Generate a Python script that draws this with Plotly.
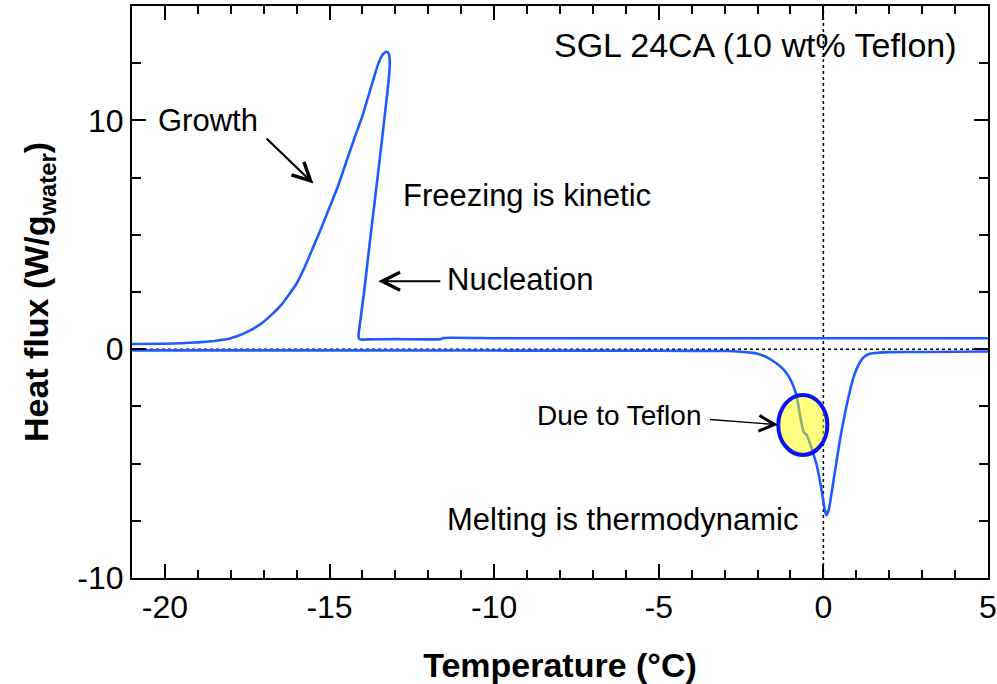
import plotly.graph_objects as go

# Cooling (freezing) run, in measurement order: 5 C down to nucleation, jump, growth back to -21 C
cool_T = [5.0, 0.0, -5.0, -10.0, -11.55, -11.62, -13.0, -13.85, -14.0, -14.1, -14.12,
          -13.95, -13.75, -13.5, -13.3, -13.2, -13.17, -13.19, -13.23, -13.27, -13.33,
          -13.4, -13.47, -13.55, -13.75, -14.0, -14.25, -14.5, -14.75, -15.0, -15.25,
          -15.5, -15.75, -16.0, -16.25, -16.5, -16.75, -17.0, -17.25, -17.5, -17.75,
          -18.0, -18.2, -18.5, -19.0, -19.5, -20.0, -21.0]
cool_Q = [0.48, 0.48, 0.48, 0.48, 0.49, 0.44, 0.44, 0.43, 0.42, 0.45, 0.58,
          2.5, 5.0, 8.0, 10.5, 11.8, 12.55, 12.85, 12.97, 13.0, 12.95,
          12.85, 12.65, 12.35, 11.4, 10.2, 9.2, 8.15, 7.1, 6.2, 5.3,
          4.45, 3.6, 2.87, 2.35, 1.88, 1.52, 1.2, 0.95, 0.76, 0.6,
          0.48, 0.42, 0.36, 0.30, 0.26, 0.24, 0.23]

# Heating (melting) run
heat_T = [-21.0, -10.0, -5.0, -3.0, -2.5, -2.2, -2.0, -1.8, -1.6, -1.4, -1.2, -1.05,
          -0.90, -0.80, -0.70, -0.60, -0.50, -0.34, -0.19, -0.04, 0.04, 0.09, 0.16,
          0.31, 0.52, 0.72, 0.92, 1.12, 1.25, 1.43, 1.7, 2.0, 3.0, 5.0]
heat_Q = [-0.05, -0.06, -0.07, -0.08, -0.11, -0.15, -0.2, -0.3, -0.45, -0.65, -0.9, -1.2,
          -1.65, -2.15, -2.96, -3.61, -3.76, -4.41, -5.14, -6.3, -7.0, -7.25, -7.03,
          -5.72, -3.83, -2.37, -1.21, -0.55, -0.32, -0.19, -0.15, -0.13, -0.12, -0.10]

x_ticks = [-20, -15, -10, -5, 0, 5]
y_ticks = [-10, 0, 10]

BLUE = "#1F5BFF"
FONT = "Liberation Sans, Arial, sans-serif"

fig = go.Figure()
fig.add_trace(go.Scatter(x=cool_T, y=cool_Q, mode="lines",
                         line=dict(color=BLUE, width=2.6, shape="spline", smoothing=0.4),
                         showlegend=False, hoverinfo="skip"))
fig.add_trace(go.Scatter(x=heat_T, y=heat_Q, mode="lines",
                         line=dict(color=BLUE, width=2.6, shape="spline", smoothing=0.6),
                         showlegend=False, hoverinfo="skip"))

# reference dotted lines
fig.add_shape(type="line", xref="paper", yref="y", x0=0, x1=1, y0=0, y1=0,
              line=dict(color="black", width=1.5, dash="dot"), layer="below")
fig.add_shape(type="line", xref="x", yref="paper", x0=0, x1=0, y0=0, y1=1,
              line=dict(color="black", width=1.5, dash="dot"), layer="below")

# Teflon ellipse
fig.add_shape(type="circle", xref="x", yref="y", x0=-1.37, x1=0.12, y0=-4.62, y1=-2.0,
              fillcolor="rgba(255,255,0,0.5)", line=dict(color="#0A14F0", width=4), layer="above")


def text(x, y, s, size=31, xanchor="center"):
    fig.add_annotation(x=x, y=y, xref="x", yref="y", text=s, showarrow=False,
                       font=dict(family=FONT, size=size, color="black"), xanchor=xanchor)


def arrow(x, y, ax, ay, width=2.2, size=1.6):
    fig.add_annotation(x=x, y=y, ax=ax, ay=ay, xref="x", yref="y", axref="x", ayref="y",
                       text="", showarrow=True, arrowhead=5, arrowsize=size,
                       arrowwidth=width, arrowcolor="black")


text(-18.7, 10.0, "Growth")
arrow(-15.49, 7.24, -16.96, 9.27)
text(-9.0, 6.7, "Freezing is kinetic")
text(-9.2, 3.05, "Nucleation")
arrow(-13.52, 2.97, -11.59, 2.97)
text(-2.07, 13.3, "SGL 24CA (10 wt% Teflon)", size=34)
text(-6.2, -2.9, "Due to Teflon", size=28)
arrow(-1.38, -3.3, -3.49, -3.07, width=1.4, size=2.2)
text(-6.1, -7.45, "Melting is thermodynamic")

axis_common = dict(showline=True, linecolor="black", linewidth=2, mirror="ticks",
                   ticks="inside", tickcolor="black", tickwidth=1.5, ticklen=14,
                   showgrid=False, zeroline=False, automargin=False,
                   tickfont=dict(family=FONT, size=32, color="black"))

fig.update_xaxes(range=[-21, 5], tickvals=x_ticks, ticktext=[str(v) for v in x_ticks],
                 minor=dict(dtick=1, tick0=0, ticklen=8, ticks="inside", tickcolor="black",
                            tickwidth=1.5, showgrid=False),
                 title=dict(text="<b>Temperature (°C)</b>", font=dict(family=FONT, size=34, color="black"),
                            standoff=31),
                 **axis_common)
fig.update_yaxes(range=[-10, 15], tickvals=y_ticks, ticktext=[str(v) for v in y_ticks],
                 minor=dict(dtick=2.5, tick0=0, ticklen=9, ticks="inside", tickcolor="black",
                            tickwidth=1.5, showgrid=False),
                 title=dict(text="<b>Heat flux (W/g<sub>water</sub>)</b>",
                            font=dict(family=FONT, size=34, color="black"), standoff=18),
                 **axis_common)

fig.update_layout(width=997, height=684, margin=dict(l=132, r=9, t=6, b=106),
                  plot_bgcolor="white", paper_bgcolor="white", showlegend=False)

fig.write_html("out.html", config={"displayModeBar": False},
               post_script="document.body.style.margin='0';")
